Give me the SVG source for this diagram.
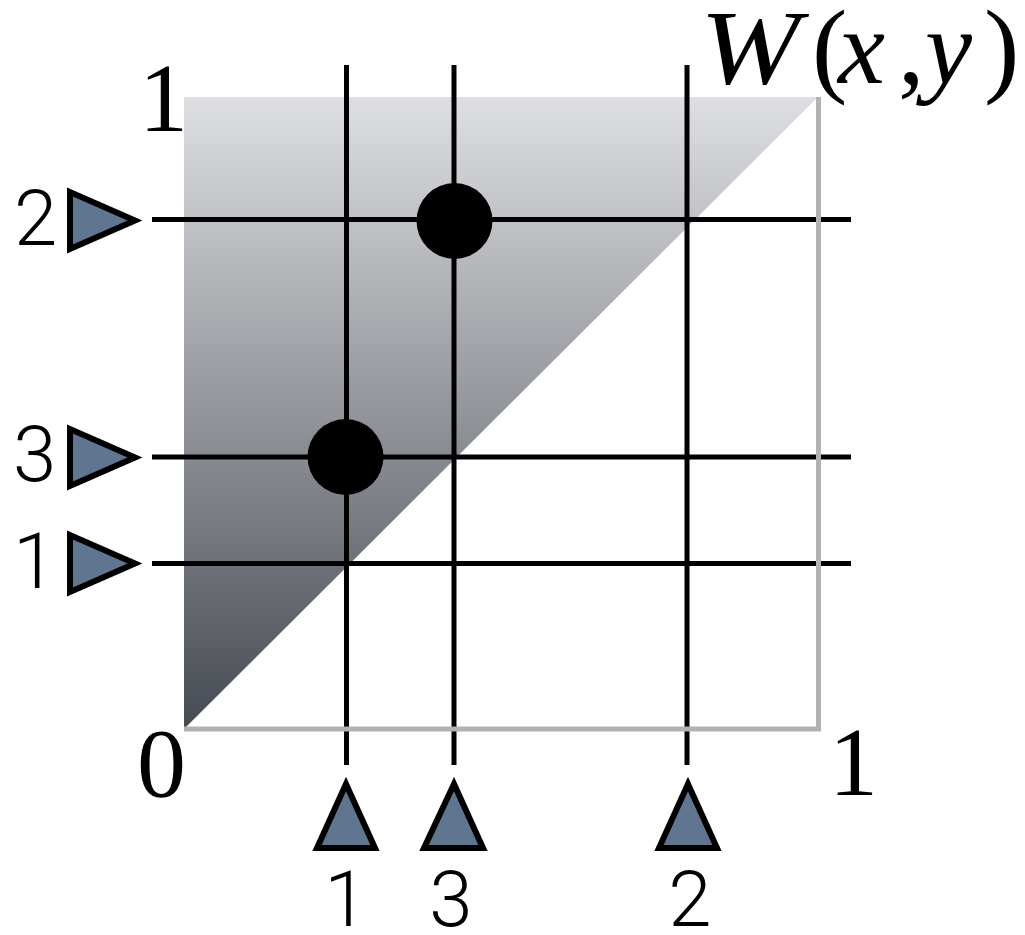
<svg xmlns="http://www.w3.org/2000/svg" width="1025" height="935" viewBox="0 0 1025 935">
<defs>
<linearGradient id="g" x1="0" y1="0" x2="0" y2="1">
<stop offset="0" stop-color="#dedfe2"/>
<stop offset="1" stop-color="#464a52"/>
</linearGradient>
</defs>
<style>
.ln{stroke:#000;stroke-width:5;fill:none}
.tri{fill:#607590;stroke:#000;stroke-width:6;stroke-linejoin:miter}
.sans{font-family:"Helvetica Neue",Roboto,"Liberation Sans",sans-serif;font-weight:300;font-size:78px;fill:#000}
.serif{font-family:"Liberation Serif","Times New Roman",serif;font-size:98px;fill:#000}
.w{font-size:106px}
.it{font-style:italic}
</style>
<rect x="0" y="0" width="1025" height="935" fill="#fff"/>
<g id="plot">
<polygon points="184,729 184,97 818,97" fill="url(#g)"/>
</g>
<g id="connectors">
<line class="ln" x1="346.5" y1="65" x2="346.5" y2="765"/>
<line class="ln" x1="454" y1="65" x2="454" y2="765"/>
<line class="ln" x1="687" y1="65" x2="687" y2="765"/>
<line class="ln" x1="152" y1="219.5" x2="851" y2="219.5"/>
<line class="ln" x1="152" y1="457" x2="851" y2="457"/>
<line class="ln" x1="152" y1="563.5" x2="851" y2="563.5"/>
</g>
<g id="frame">
<path d="M184,729 H818.5 V97" fill="none" stroke="#b0b3b0" stroke-width="5"/>
</g>
<g id="dot-a"><circle cx="454.5" cy="221" r="38"/></g>
<g id="dot-b"><circle cx="345.5" cy="457" r="38"/></g>
<g id="left-2">
<polygon class="tri" points="70,192 70,249 135,220.5"/>
<text class="sans" x="14" y="245">2</text>
</g>
<g id="left-3">
<polygon class="tri" points="70,429 70,486 135,457.5"/>
<text class="sans" x="13" y="481">3</text>
</g>
<g id="left-1">
<polygon class="tri" points="70,535 70,592 135,563.5"/>
<text class="sans" x="13" y="588">1</text>
</g>
<g id="bottom-1">
<polygon class="tri" points="346,784 317,848 375,848"/>
<text class="sans" x="346" y="926" text-anchor="middle">1</text>
</g>
<g id="bottom-3">
<polygon class="tri" points="454,784 424,848 483,848"/>
<text class="sans" x="451" y="926" text-anchor="middle">3</text>
</g>
<g id="bottom-2">
<polygon class="tri" points="688,784 659,848 717,848"/>
<text class="sans" x="690" y="926" text-anchor="middle">2</text>
</g>
<g id="axis-labels">
<text class="serif" x="139" y="131">1</text>
<text class="serif" x="137" y="796">0</text>
<text class="serif" x="829" y="795">1</text>
<text class="serif w" y="83"><tspan class="it" x="700" textLength="100" lengthAdjust="spacingAndGlyphs">W</tspan><tspan x="812">(</tspan><tspan class="it" x="838">x</tspan><tspan x="898">,</tspan><tspan class="it" x="925">y</tspan><tspan x="984">)</tspan></text>
</g>
</svg>
